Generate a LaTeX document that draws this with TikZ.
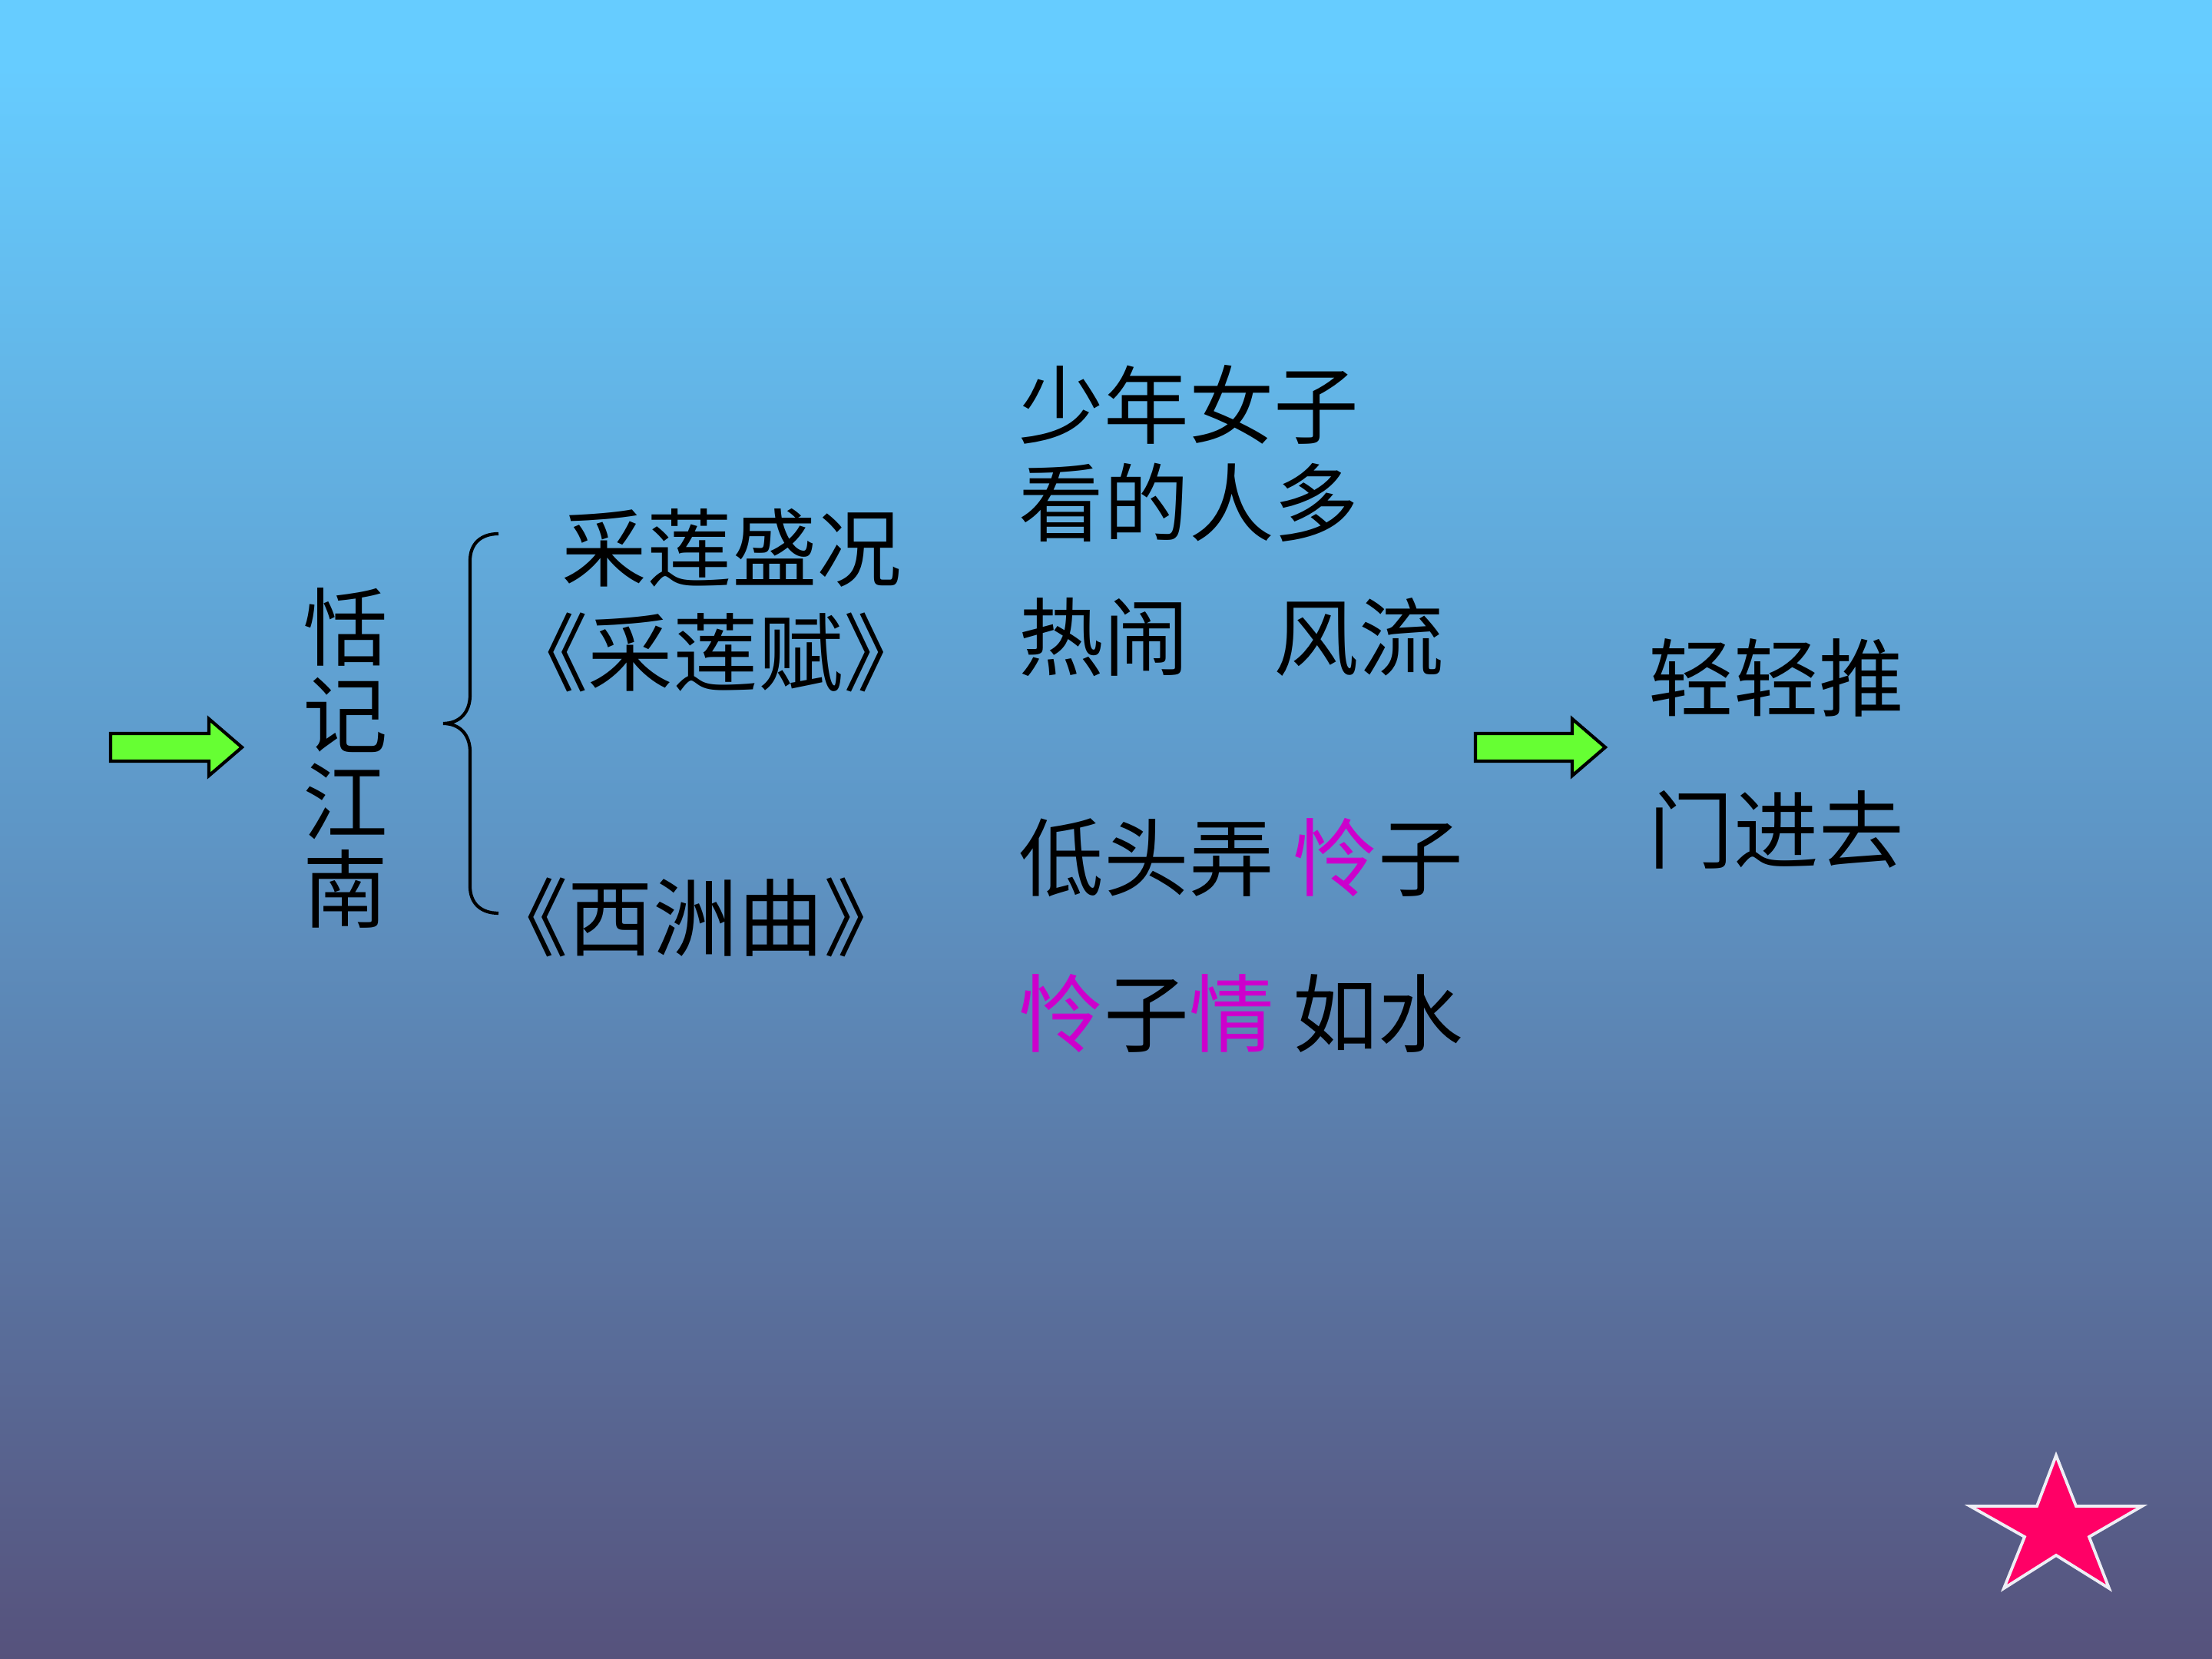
\documentclass[tikz,border=0pt]{standalone}
\usepackage{fontspec}
\setmainfont{Noto Sans CJK SC}
\usetikzlibrary{positioning}

\definecolor{ciel}{RGB}{102,204,255}
\definecolor{cielmilieu}{RGB}{94,150,198}
\definecolor{ardoise}{RGB}{86,82,124}
\definecolor{vertfleche}{RGB}{102,255,51}
\definecolor{magenta}{RGB}{204,0,204}
\definecolor{rosetoile}{RGB}{255,0,102}
\definecolor{bordetoile}{RGB}{238,238,245}

\pgfdeclareverticalshading{fondciel}{100bp}{color(0bp)=(ardoise); color(25bp)=(ardoise);
  color(50bp)=(cielmilieu); color(73bp)=(ciel); color(100bp)=(ciel)}

\begin{document}
\begin{tikzpicture}[
  texte/.style={inner sep=0pt, font=\fontsize{31.5}{32.4}\selectfont, text=black},
  fleche/.style={draw=black, line width=1.2pt, fill=vertfleche, line join=miter},
  accolade/.style={draw=black, line width=1.2pt},
  etoile/.style={draw=bordetoile, line width=1.1pt, fill=rosetoile, line join=miter}
]

%Dimensions des flèches
\def \hcorps{0.18}
\def \htete{0.37}
\def \ltete{0.43}

%Fond
\useasboundingbox (0,0) rectangle (28.8,21.6);
\shade[shading=fondciel] (0,0) rectangle (28.8,21.6);

%Flèche de gauche
\draw[fleche] (1.44,11.87-\hcorps) -- ++(1.28,0) -- ++(0,-\htete+\hcorps) -- ++(\ltete,\htete)
  -- ++(-\ltete,\htete) -- ++(0,-\htete+\hcorps) -- (1.44,11.87+\hcorps) -- cycle;

%Titre vertical
\node[texte, align=center] (titre) at (4.50,11.73) {恬\\记\\江\\南};

%Accolade
\draw[accolade] (6.49,14.65) .. controls (6.26,14.65) and (6.12,14.52) .. (6.12,14.30)
  -- (6.12,12.55) .. controls (6.12,12.32) and (5.98,12.18) .. (5.77,12.18)
  .. controls (5.98,12.18) and (6.12,12.04) .. (6.12,11.81)
  -- (6.12,10.06) .. controls (6.12,9.84) and (6.26,9.71) .. (6.49,9.71);

%Branches de l'accolade
\node[texte] (caisheng) at (9.53,14.47) {采莲盛况};
\node[texte] (caifu) at (9.32,13.11) {《采莲赋》};
\node[texte] (xizhou) at (9.06,9.66) {《西洲曲》};

%Colonne du milieu
\node[texte, anchor=west] (shaonian) at (13.26,16.33) {少年女子};
\node[texte, anchor=west] (kande) at (13.26,15.06) {看的人多};
\node[texte, anchor=west] (renao) at (13.26,13.30) {热闹　风流};
\node[texte, anchor=west] (ditou) at (13.26,10.43) {低头弄 {\color{magenta}怜}子};
\node[texte, anchor=west] (lianzi) at (13.26,8.40) {{\color{magenta}怜}子{\color{magenta}情} 如水};

%Flèche de droite
\draw[fleche] (19.21,11.87-\hcorps) -- ++(1.26,0) -- ++(0,-\htete+\hcorps) -- ++(\ltete,\htete)
  -- ++(-\ltete,\htete) -- ++(0,-\htete+\hcorps) -- (19.21,11.87+\hcorps) -- cycle;

%Colonne de droite
\node[texte, anchor=west] (qingtui) at (21.46,12.78) {轻轻推};
\node[texte, anchor=west] (menjin) at (21.46,10.80) {门进去};

%Étoile
\draw[etoile] (26.77,2.65) -- (27.03,1.99) -- (27.89,1.99) -- (27.20,1.59) -- (27.46,0.92)
  -- (26.77,1.35) -- (26.09,0.92) -- (26.36,1.59) -- (25.65,1.99) -- (26.52,1.99) -- cycle;

\end{tikzpicture}
\end{document}
